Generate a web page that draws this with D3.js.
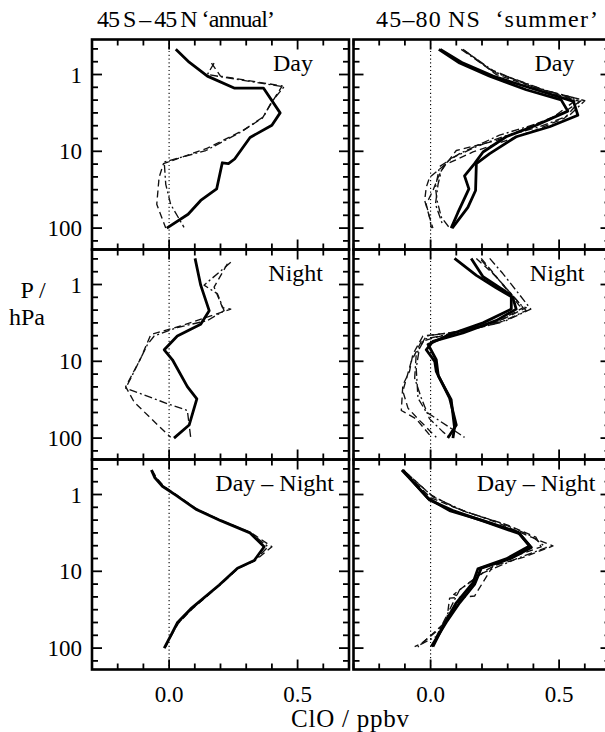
<!DOCTYPE html>
<html>
<head>
<meta charset="utf-8">
<script src="https://cdn.jsdelivr.net/npm/d3@7"></script>
<style>
  body { margin: 0; background: white; }
  text { font-family: "Liberation Serif", serif; fill: black; }
</style>
</head>
<body>
<div id="chart"></div>
<script>
// ===== data: [ClO ppbv, pressure hPa] =====

// 45S-45N 'annual'
const eqDaySolid = [[0.026,0.47],[0.078,0.69],[0.149,1.05],[0.253,1.5],[0.367,1.5],[0.432,3.16],[0.40,4.57],[0.315,6.6],[0.255,12.6],[0.231,14.5],[0.207,14.1],[0.185,30.9],[0.123,43.7],[0.074,66],[-0.009,100]]
const eqDayDash = [[0.165,0.71],[0.2,1.05],[0.44,1.41],[0.395,2.45],[0.363,3.7],[0.29,5.3],[0.149,9.1],[-0.022,14.5],[-0.039,21.9],[-0.048,49],[-0.013,100]]
const eqDayDashDot = [[0.175,0.71],[0.149,1.0],[0.447,1.45],[0.40,2.24],[0.367,3.55],[0.279,5.62],[0.143,9.77],[-0.019,13.8],[-0.013,26.9],[0.006,49],[0.058,97.7]]

const eqNightSolid = [[0.101,0.457],[0.123,1.02],[0.156,2.19],[0.123,3.3],[0.032,4.68],[-0.019,7.08],[0.013,9.55],[0.071,21.4],[0.108,30.9],[0.078,67.6],[0.019,100]]
const eqNightDash = [[0.227,0.537],[0.175,1.08],[0.208,2.0],[0.24,2.09],[0.045,3.47],[-0.071,4.47],[-0.11,9.1],[-0.169,21.4],[-0.136,33.9],[-0.078,52.5],[0.006,97.7]]
const eqNightDashDot = [[0.24,0.513],[0.136,1.02],[0.188,1.32],[0.214,2.19],[0.149,2.95],[0.032,3.63],[-0.058,4.68],[-0.084,6.03],[-0.149,16.6],[-0.169,22.4],[0.0,36.3],[0.071,43.7],[0.084,97.7]]

const eqDiffSolid = [[-0.069,0.479],[-0.056,0.60],[-0.026,0.78],[0.026,1.02],[0.104,1.55],[0.201,2.19],[0.315,3.16],[0.37,4.79],[0.331,7.24],[0.266,9.1],[0.195,15.1],[0.084,30.9],[0.032,46.8],[0.006,69.2],[-0.019,100]]
const eqDiffDash = [[-0.066,0.48],[-0.05,0.6],[-0.02,0.78],[0.03,1.02],[0.108,1.55],[0.205,2.19],[0.32,3.16],[0.40,4.79],[0.335,7.24],[0.27,9.1],[0.198,15.1],[0.09,30.9],[0.035,47.9],[0.008,69.2],[-0.015,100]]
const eqDiffDashDot = [[-0.068,0.48],[-0.054,0.6],[-0.024,0.78],[0.028,1.02],[0.106,1.55],[0.203,2.19],[0.318,3.16],[0.385,4.79],[0.333,7.24],[0.268,9.1],[0.196,15.1],[0.087,30.9],[0.034,47.9],[0.007,69.2],[-0.017,100]]

// 45-80NS 'summer'
const hiDaySolidA = [[0.032,0.47],[0.113,0.71],[0.23,1.05],[0.372,1.58],[0.508,2.14],[0.534,3.0],[0.411,4.57],[0.294,6.46],[0.204,10.2],[0.171,14.5],[0.132,20.9],[0.149,30.9],[0.106,63],[0.08,100]]
const hiDaySolidB = [[0.038,0.47],[0.126,0.71],[0.243,1.05],[0.411,1.58],[0.556,2.24],[0.573,3.39],[0.463,4.79],[0.333,6.46],[0.23,10.7],[0.178,14.5],[0.175,32.4],[0.145,53.7],[0.084,100]]
const hiDayDash1 = [[0.126,0.47],[0.23,0.85],[0.41,1.51],[0.59,2.14],[0.515,3.16],[0.385,4.79],[0.255,7.24],[0.1,9.77],[0.061,14.5],[-0.004,21.9],[-0.017,29.5],[-0.023,43.7],[-0.004,72.4],[0.003,100]]
const hiDayDashDot1 = [[0.132,0.49],[0.255,0.95],[0.437,1.58],[0.6,2.19],[0.541,3.39],[0.424,4.79],[0.281,6.46],[0.178,8.7],[0.074,12.6],[0.042,17.8],[0.029,26.9],[0.019,49],[0.048,93]]
const hiDayDash2 = [[0.139,0.51],[0.255,1.0],[0.45,1.66],[0.58,2.24],[0.521,3.7],[0.411,5.25],[0.294,7.24],[0.165,10.2],[0.054,15.1],[0.029,21.9],[0.009,32.4],[-0.017,49],[-0.004,72.4],[0.009,100]]
const hiDayDashDot2 = [[0.119,0.47],[0.243,0.91],[0.424,1.51],[0.567,2.14],[0.463,3.89],[0.268,6.17],[0.113,10.7],[0.035,15.8],[0.019,29.5],[0.025,43.7],[0.042,72.4],[0.074,100]]

const hiNightSolidA = [[0.093,0.457],[0.178,0.76],[0.255,1.1],[0.32,1.48],[0.333,2.09],[0.255,2.95],[0.126,4.27],[0.009,5.5],[-0.017,7.08],[0.016,10],[0.022,13.5],[0.074,30.2],[0.1,67.6],[0.067,100]]
const hiNightSolidB = [[0.158,0.457],[0.204,0.79],[0.314,1.38],[0.314,2.09],[0.204,3.16],[0.074,4.47],[-0.01,6.03],[0.022,9.55],[0.03,15.5],[0.08,31.6],[0.093,72.4],[0.087,100]]
const hiNightDash1 = [[0.197,0.457],[0.246,0.72],[0.346,1.9],[0.372,2.0],[0.259,3.09],[0.074,4.27],[-0.03,4.68],[-0.069,8.1],[-0.082,13.5],[-0.108,20.4],[-0.114,43.7],[-0.056,56.2],[-0.004,91]]
const hiNightDashDot1 = [[0.23,0.457],[0.281,0.72],[0.39,2.09],[0.294,2.95],[0.113,4.07],[-0.017,4.68],[-0.043,6.6],[-0.056,12.3],[-0.049,30.2],[-0.017,45.7],[0.132,97.7]]
const hiNightDash2 = [[0.178,0.457],[0.255,0.79],[0.36,2.0],[0.243,3.3],[0.074,4.37],[-0.036,5.5],[-0.075,10],[-0.108,24.5],[-0.088,40.7],[-0.049,56.2],[0.022,97.7]]
const hiNightDashDot2 = [[0.197,0.48],[0.268,0.89],[0.372,2.19],[0.268,3.16],[0.1,4.27],[-0.023,5.13],[-0.056,8.1],[-0.062,16.6],[-0.036,30.2],[-0.004,56.2],[0.048,83],[0.074,97.7]]

const hiDiffSolidA = [[-0.112,0.48],[-0.075,0.65],[-0.01,1.12],[0.074,1.62],[0.204,2.19],[0.34,3.09],[0.385,4.68],[0.294,6.9],[0.184,9.3],[0.165,14.1],[0.1,25.7],[0.054,47.9],[0.009,95.5]]
const hiDiffSolidB = [[-0.108,0.48],[-0.069,0.68],[-0.004,1.18],[0.087,1.62],[0.217,2.29],[0.346,3.24],[0.392,4.9],[0.308,6.9],[0.197,9.1],[0.171,14.8],[0.113,25.7],[0.061,46],[0.003,95.5]]
const hiDiffDash1 = [[-0.101,0.5],[0.003,1.02],[0.1,1.51],[0.255,2.29],[0.36,3.24],[0.476,4.68],[0.36,6.6],[0.243,8.5],[0.171,21],[0.074,22.4],[0.061,47.9],[-0.036,87],[-0.062,95.5]]
const hiDiffDashDot1 = [[-0.095,0.52],[0.009,1.07],[0.126,1.62],[0.281,2.4],[0.392,3.47],[0.45,4.9],[0.333,6.9],[0.204,10.5],[0.113,17.4],[0.074,31.6],[0.022,70.8],[-0.043,91]]
const hiDiffDash2 = [[-0.09,0.55],[0.0,1.1],[0.14,1.7],[0.3,2.5],[0.41,3.6],[0.43,4.8],[0.32,6.5],[0.22,9.5],[0.15,14],[0.09,20],[0.12,22],[0.06,45],[-0.03,85],[-0.05,97]]

const yMajor = [1, 10, 100]
const yMajorLabels = ["1", "10", "100"]
const xMajor = [0, 0.5]
const xMajorLabels = ["0.0", "0.5"]
const colTitles = ["45\u2009S\u2009\u2013\u200945\u2009N \u2018annual\u2019", "45\u201380\u2009NS \u00a0\u2018summer\u2019"]
const rowLabels = ["Day", "Night", "Day \u2013 Night"]

// ===== layout =====
const W = 605, H = 732
const colX = [92, 353.5]
const panelW = 257
const rowY = [39.5, 249.5, 459.5]
const panelH = 210
const labelEnd = [221, 231, 242]
const titleX = [97, 376]
const titleLen = [178, 222]

const styles = {
  solid: {w: 2.8, dash: null, color: "#000"},
  dash: {w: 1.35, dash: "7,4", color: "#111"},
  dashdot: {w: 1.35, dash: "8,3,2,3", color: "#111"}
}

const panels = [
  {col: 0, row: 0, series: [[eqDayDash,"dash"],[eqDayDashDot,"dashdot"],[eqDaySolid,"solid"]]},
  {col: 1, row: 0, series: [[hiDayDash1,"dash"],[hiDayDashDot1,"dashdot"],[hiDayDash2,"dash"],[hiDayDashDot2,"dashdot"],[hiDaySolidA,"solid"],[hiDaySolidB,"solid"]]},
  {col: 0, row: 1, series: [[eqNightDash,"dash"],[eqNightDashDot,"dashdot"],[eqNightSolid,"solid"]]},
  {col: 1, row: 1, series: [[hiNightDash1,"dash"],[hiNightDashDot1,"dashdot"],[hiNightDash2,"dash"],[hiNightDashDot2,"dashdot"],[hiNightSolidA,"solid"],[hiNightSolidB,"solid"]]},
  {col: 0, row: 2, series: [[eqDiffDash,"dash"],[eqDiffDashDot,"dashdot"],[eqDiffSolid,"solid"]]},
  {col: 1, row: 2, series: [[hiDiffDash1,"dash"],[hiDiffDashDot1,"dashdot"],[hiDiffDash2,"dash"],[hiDiffSolidA,"solid"],[hiDiffSolidB,"solid"]]},
]

const svg = d3.select("#chart").append("svg")
  .attr("width", W).attr("height", H)

// minor ticks: 6 levels per decade, 0.1 ppbv steps
const yMinor = d3.range(-3, 15).map(k => Math.pow(10, k / 6))
const xMinor = d3.range(-3, 8).map(k => k / 10)

panels.forEach(p => {
  const x0 = colX[p.col], y0 = rowY[p.row]
  const x = d3.scaleLinear().domain([-0.3, 0.7]).range([x0, x0 + panelW])
  const y = d3.scaleLog().domain([0.35, 190]).range([y0, y0 + panelH])
  const g = svg.append("g")

  const clipId = "clip" + p.col + p.row
  g.append("clipPath").attr("id", clipId)
    .append("rect").attr("x", x0).attr("y", y0).attr("width", panelW).attr("height", panelH)

  // zero line
  g.append("line")
    .attr("x1", x(0)).attr("x2", x(0)).attr("y1", y0).attr("y2", y0 + panelH)
    .attr("stroke", "#000").attr("stroke-width", 1.1).attr("stroke-dasharray", "1.2,2.6")

  const line = d3.line().x(d => x(d[0])).y(d => y(d[1]))
  const lines = g.append("g").attr("clip-path", `url(#${clipId})`)
  p.series.forEach(([data, kind]) => {
    const s = styles[kind]
    lines.append("path")
      .attr("d", line(data))
      .attr("fill", "none")
      .attr("stroke", s.color)
      .attr("stroke-width", s.w)
      .attr("stroke-linejoin", "round")
      .attr("stroke-dasharray", s.dash)
  })

  // ticks, all pointing inward
  const ticks = g.append("g").attr("stroke", "#000").attr("stroke-width", 1.8)
  yMinor.filter(v => v > 0.35 && v < 190).forEach(v => {
    const major = yMajor.some(m => Math.abs(m - v) / m < 1e-6)
    const len = major ? 10 : 6
    ticks.append("line").attr("x1", x0).attr("x2", x0 + len).attr("y1", y(v)).attr("y2", y(v))
    ticks.append("line").attr("x1", x0 + panelW).attr("x2", x0 + panelW - len).attr("y1", y(v)).attr("y2", y(v))
  })
  xMinor.forEach(v => {
    const major = xMajor.some(m => Math.abs(m - v) < 1e-6)
    const len = major ? 10 : 6
    ticks.append("line").attr("x1", x(v)).attr("x2", x(v)).attr("y1", y0).attr("y2", y0 + len)
    ticks.append("line").attr("x1", x(v)).attr("x2", x(v)).attr("y1", y0 + panelH).attr("y2", y0 + panelH - len)
  })

  // frame
  g.append("rect")
    .attr("x", x0).attr("y", y0).attr("width", panelW).attr("height", panelH)
    .attr("fill", "none").attr("stroke", "#000").attr("stroke-width", 2.6)

  g.append("text")
    .attr("x", x0 + labelEnd[p.row]).attr("y", y0 + 31)
    .attr("text-anchor", "end").attr("font-size", 24)
    .text(rowLabels[p.row])

  if (p.col == 0) {
    yMajor.forEach((v, i) => {
      g.append("text")
        .attr("x", x0 - 10).attr("y", y(v) + 8)
        .attr("text-anchor", "end").attr("font-size", 23)
        .text(yMajorLabels[i])
    })
  }
  if (p.row == 2) {
    xMajor.forEach((v, i) => {
      g.append("text")
        .attr("x", x(v)).attr("y", y0 + panelH + 32)
        .attr("text-anchor", "middle").attr("font-size", 23)
        .text(xMajorLabels[i])
    })
  }
  if (p.row == 0) {
    g.append("text")
      .attr("x", titleX[p.col]).attr("y", 27)
      .attr("font-size", 24)
      .attr("textLength", titleLen[p.col]).attr("lengthAdjust", "spacing")
      .text(colTitles[p.col])
  }
})

svg.append("text").attr("x", 33).attr("y", 298).attr("text-anchor", "middle").attr("font-size", 24).text("P /")
svg.append("text").attr("x", 27).attr("y", 325).attr("text-anchor", "middle").attr("font-size", 24).text("hPa")
svg.append("text").attr("x", 350).attr("y", 727).attr("text-anchor", "middle").attr("font-size", 25)
  .attr("textLength", 118).attr("lengthAdjust", "spacing").text("ClO / ppbv")
</script>
</body>
</html>
